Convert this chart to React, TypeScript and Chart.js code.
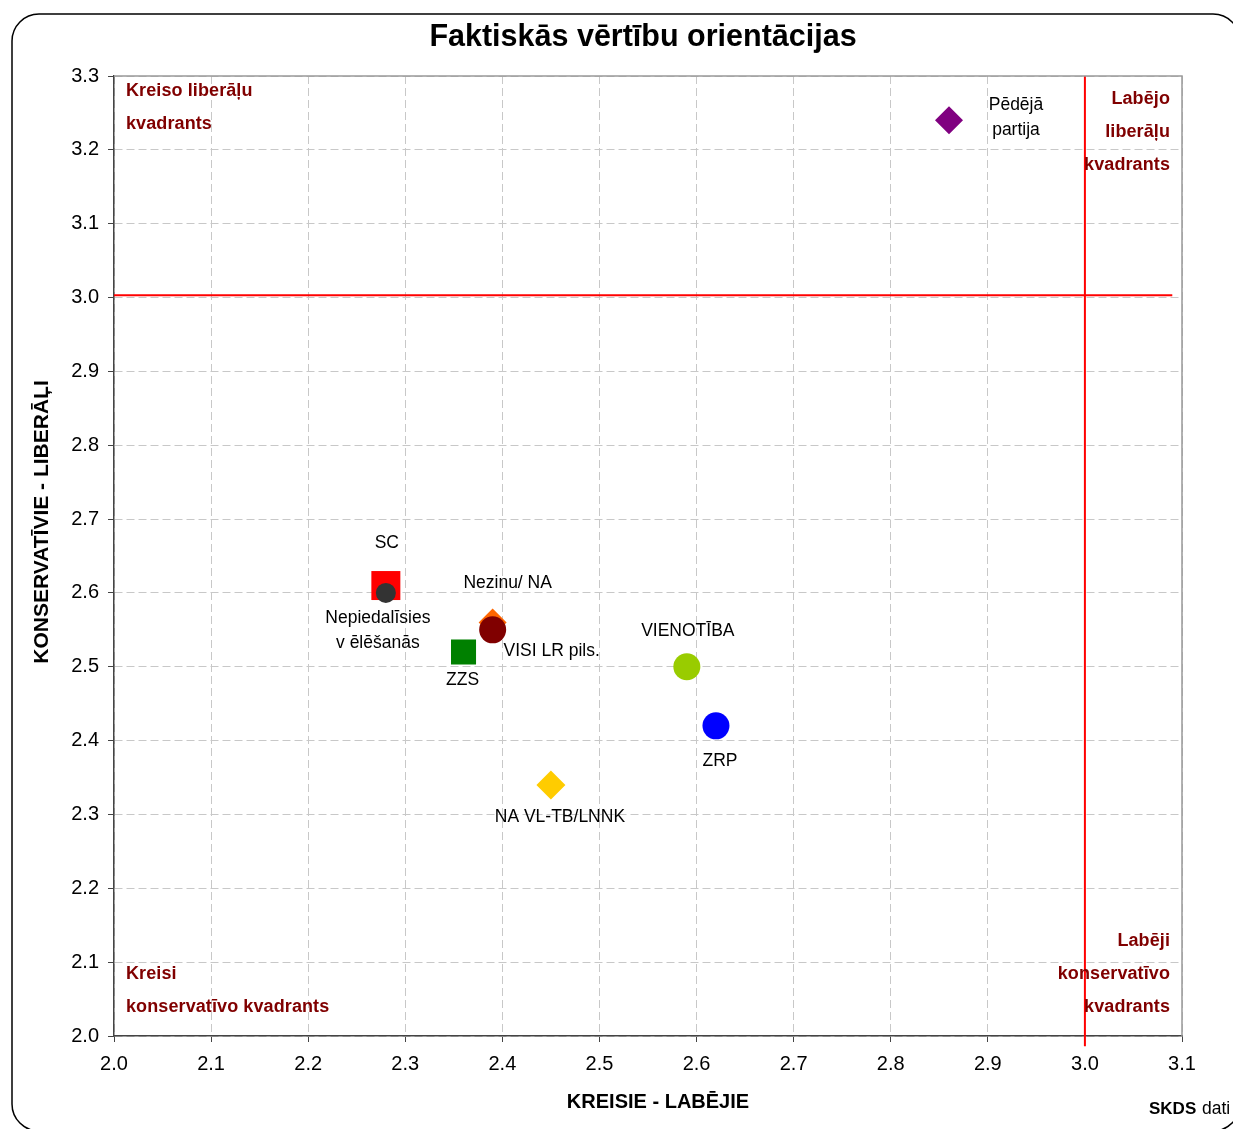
import React, { useEffect, useRef } from "react";
import { Chart, registerables } from "chart.js";

Chart.register(...registerables);

// ---- data ----
const seriesNames = [
  "Pēdējā partija",
  "Nepiedalīsies vēlēšanās",
  "SC",
  "VISI LR pils.",
  "Nezinu/ NA",
  "ZZS",
  "VIENOTĪBA",
  "ZRP",
  "NA VL-TB/LNNK",
];
const xValues = [2.86, 2.28, 2.28, 2.39, 2.39, 2.36, 2.59, 2.62, 2.45];
const yValues = [3.24, 2.6, 2.61, 2.55, 2.56, 2.52, 2.5, 2.42, 2.34];
const pointLabels = [
  ["Pēdējā", "partija"],
  ["Nepiedalīsies", "v ēlēšanās"],
  ["SC"],
  ["VISI LR pils."],
  ["Nezinu/ NA"],
  ["ZZS"],
  ["VIENOTĪBA"],
  ["ZRP"],
  ["NA VL-TB/LNNK"],
];
const xTickValues = [2.0, 2.1, 2.2, 2.3, 2.4, 2.5, 2.6, 2.7, 2.8, 2.9, 3.0, 3.1];
const yTickValues = [2.0, 2.1, 2.2, 2.3, 2.4, 2.5, 2.6, 2.7, 2.8, 2.9, 3.0, 3.1, 3.2, 3.3];
const hLineX = [2.0, 3.09];
const hLineY = [3.003, 3.003];
const vLineX = [3.0, 3.0];
const vLineY = [1.986, 3.3];

const titleText = "Faktiskās vērtību orientācijas";
const xTitle = "KREISIE - LABĒJIE";
const yTitle = "KONSERVATĪVIE - LIBERĀĻI";
const quadTopLeft = ["Kreiso liberāļu", "kvadrants"];
const quadTopRight = ["Labējo", "liberāļu", "kvadrants"];
const quadBottomLeft = ["Kreisi", "konservatīvo kvadrants"];
const quadBottomRight = ["Labēji", "konservatīvo", "kvadrants"];

// ---- styles ----
const colors = ["#800080", "#333333", "#FF0000", "#800000", "#FF6600", "#008000", "#99CC00", "#0000FF", "#FFCC00"];
const shapes = ["rectRot", "circle", "rect", "circle", "rectRot", "rect", "circle", "circle", "rectRot"];
const radii = [14, 10, 20.5, 13.5, 14, 17.7, 13.5, 13.5, 14.5];
const labelOffsets = [
  [67, -15],
  [-8, 25],
  [1, -42],
  [59, 21],
  [15, -39],
  [-1, 28],
  [1, -36],
  [4, 35],
  [9, 32],
];

const FONT = '"Liberation Sans", Arial, sans-serif';
const W = 1233;
const H = 1129;

const textPlugin = {
  id: "textPlugin",
  beforeDraw(chart: any) {
    const ctx = chart.ctx;
    ctx.save();
    ctx.fillStyle = "#fff";
    ctx.fillRect(0, 0, W, H);
    ctx.beginPath();
    ctx.roundRect(12, 14, 1228, 1117, 27);
    ctx.lineWidth = 1.5;
    ctx.strokeStyle = "#000";
    ctx.stroke();
    ctx.restore();
  },
  afterDraw(chart: any) {
    const ctx = chart.ctx;
    const a = chart.chartArea;
    const xs = chart.scales.x;
    const ys = chart.scales.y;
    ctx.save();
    // plot frame top/right
    ctx.strokeStyle = "#999";
    ctx.lineWidth = 1.5;
    ctx.beginPath();
    ctx.moveTo(a.left, a.top);
    ctx.lineTo(a.right, a.top);
    ctx.lineTo(a.right, a.bottom);
    ctx.stroke();

    // title
    ctx.fillStyle = "#000";
    ctx.textAlign = "center";
    ctx.textBaseline = "middle";
    ctx.font = `bold 30.5px ${FONT}`;
    ctx.fillText(titleText, 643, 38);

    // axis titles
    ctx.font = `bold 20px ${FONT}`;
    ctx.fillText(xTitle, 658, 1102);
    ctx.save();
    ctx.translate(42, 522);
    ctx.rotate(-Math.PI / 2);
    ctx.font = `bold 21px ${FONT}`;
    ctx.fillText(yTitle, 0, 0);
    ctx.restore();

    // quadrant labels
    ctx.fillStyle = "#800000";
    ctx.font = `bold 18px ${FONT}`;
    (ctx as any).letterSpacing = "0.1px";
    const lh = 33;
    ctx.textAlign = "left";
    quadTopLeft.forEach((t, i) => ctx.fillText(t, a.left + 12, a.top + 15 + i * lh));
    quadBottomLeft.forEach((t, i) => ctx.fillText(t, a.left + 12, a.bottom - 62 + i * lh));
    ctx.textAlign = "right";
    quadTopRight.forEach((t, i) => ctx.fillText(t, a.right - 12, a.top + 23 + i * lh));
    quadBottomRight.forEach((t, i) => ctx.fillText(t, a.right - 12, a.bottom - 95 + i * lh));
    (ctx as any).letterSpacing = "0px";

    // point labels
    ctx.fillStyle = "#000";
    ctx.textAlign = "center";
    ctx.font = `17.5px ${FONT}`;
    seriesNames.forEach((_, i) => {
      const px = xs.getPixelForValue(xValues[i]) + labelOffsets[i][0];
      const py = ys.getPixelForValue(yValues[i]) + labelOffsets[i][1];
      pointLabels[i].forEach((t, j) => ctx.fillText(t, px, py + j * 25));
    });

    // source
    ctx.textAlign = "left";
    ctx.font = `bold 17px ${FONT}`;
    ctx.fillText("SKDS", 1149, 1109);
    const w = ctx.measureText("SKDS ").width;
    ctx.font = `17.5px ${FONT}`;
    ctx.fillText("dati", 1150 + w, 1109);
    ctx.restore();
  },
};

export default function App() {
  const ref = useRef<HTMLCanvasElement | null>(null);
  useEffect(() => {
    if (!ref.current) return;
    const pointSets = seriesNames.map((name, i) => ({
      type: "scatter" as const,
      label: name,
      data: [{ x: xValues[i], y: yValues[i] }],
      backgroundColor: colors[i],
      borderColor: colors[i],
      borderWidth: 0,
      pointStyle: shapes[i],
      pointRadius: radii[i],
      pointHoverRadius: radii[i],
    }));
    const lineSets = [
      {
        type: "line" as const,
        label: "h",
        data: hLineX.map((x, i) => ({ x, y: hLineY[i] })),
        borderColor: "#FF0000",
        borderWidth: 2,
        pointRadius: 0,
        showLine: true,
        fill: false,
        clip: false as any,
      },
      {
        type: "line" as const,
        label: "v",
        data: vLineX.map((x, i) => ({ x, y: vLineY[i] })),
        borderColor: "#FF0000",
        borderWidth: 2,
        pointRadius: 0,
        showLine: true,
        fill: false,
        clip: false as any,
      },
    ];
    const chart = new Chart(ref.current, {
      type: "scatter",
      data: { datasets: [...pointSets, ...lineSets] as any },
      options: {
        responsive: false,
        animation: false,
        devicePixelRatio: 1,
        layout: { padding: { left: 20, right: 51, top: 76, bottom: 53 } },
        plugins: { legend: { display: false }, tooltip: { enabled: false }, title: { display: false } },
        scales: {
          x: {
            type: "linear",
            min: 2.0,
            max: 3.1,
            afterBuildTicks: (s: any) => {
              s.ticks = xTickValues.map((v) => ({ value: v }));
            },
            afterFit: (s: any) => {
              s.height = 40;
            },
            ticks: {
              color: "#000",
              font: { family: FONT, size: 20 },
              padding: 10,
              maxRotation: 0,
              autoSkip: false,
              callback: (v: any) => Number(v).toFixed(1),
            },
            grid: { color: "#c8c8c8", lineWidth: 1, tickColor: "#444", tickLength: 6 },
            border: { color: "#444", width: 1.5, dash: [8, 4] },
          },
          y: {
            type: "linear",
            min: 2.0,
            max: 3.3,
            afterBuildTicks: (s: any) => {
              s.ticks = yTickValues.map((v) => ({ value: v }));
            },
            afterFit: (s: any) => {
              s.width = 94;
            },
            ticks: {
              color: "#000",
              font: { family: FONT, size: 20 },
              padding: 9,
              autoSkip: false,
              callback: (v: any) => Number(v).toFixed(1),
            },
            grid: { color: "#c8c8c8", lineWidth: 1, tickColor: "#444", tickLength: 6 },
            border: { color: "#444", width: 1.5, dash: [8, 4] },
          },
        },
      },
      plugins: [textPlugin],
    });
    return () => chart.destroy();
  }, []);
  return (
    <div style={{ position: "fixed", left: 0, top: 0, width: W, height: H, background: "#fff" }}>
      <canvas ref={ref} width={W} height={H} style={{ display: "block", width: W, height: H }} />
    </div>
  );
}
